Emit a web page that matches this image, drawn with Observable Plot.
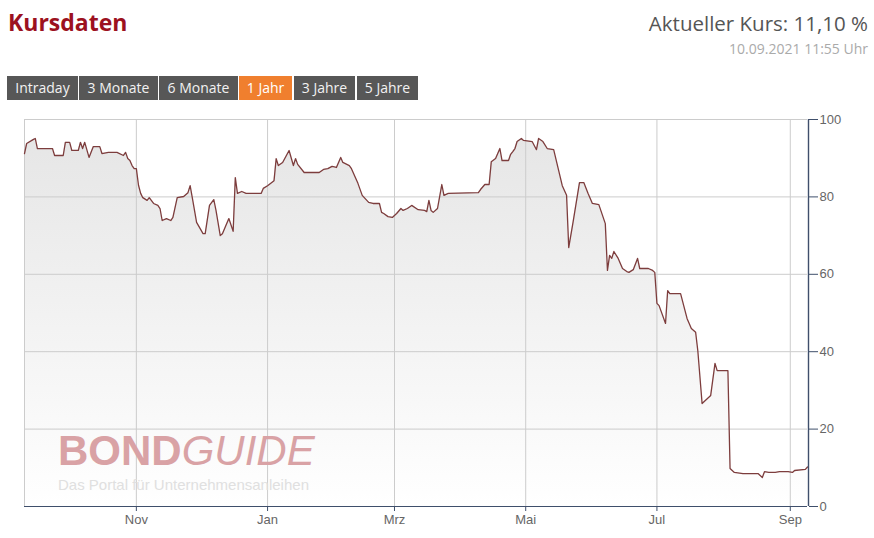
<!DOCTYPE html>
<html>
<head>
<meta charset="utf-8">
<script src="https://cdn.jsdelivr.net/npm/d3@7"></script>
<script src="https://cdn.jsdelivr.net/npm/@observablehq/plot@0.6"></script>
<style>
  html, body { margin: 0; padding: 0; background: #fff; }
  body { width: 874px; height: 538px; position: relative; overflow: hidden; font-family: "Open Sans", sans-serif; }
  .title { position: absolute; left: 8px; top: 10.6px; font-size: 23px; line-height: 23px; font-weight: 700; color: #9c1120; }
  .kurs { position: absolute; right: 6px; top: 12.8px; font-size: 20.5px; line-height: 20.5px; color: #555; }
  .stamp { position: absolute; right: 6px; top: 41.6px; font-size: 14px; line-height: 14px; color: #aaa; }
  .btns { position: absolute; left: 7px; top: 76px; height: 24px; }
  .btn { position: absolute; top: 0; height: 24px; line-height: 24px; background: #575757; color: #f2f2f2; font-size: 14px; text-align: center; }
  .btn.active { background: #f07f2e; color: #fff; }
  #chart { position: absolute; left: 0; top: 110px; }
  .wm1 { position: absolute; left: 58px; top: 430.4px; font-family: "Liberation Sans", Arial, sans-serif; font-size: 42px; line-height: 42px; color: #d9a2a5; white-space: nowrap; }
  .wm1 .b { font-weight: 700; }
  .wm1 .i { font-style: italic; font-weight: 400; }
  .wm2 { position: absolute; left: 58px; top: 476.5px; font-family: "Liberation Sans", Arial, sans-serif; font-size: 15px; line-height: 15px; color: #e0e0e0; white-space: nowrap; }
</style>
</head>
<body>
<div class="title">Kursdaten</div>
<div class="kurs">Aktueller Kurs: 11,10 %</div>
<div class="stamp">10.09.2021 11:55 Uhr</div>
<div class="btns" id="btns"></div>
<div id="chart"></div>
<div class="wm1"><span class="b">BOND</span><span class="i">GUIDE</span></div>
<div class="wm2">Das Portal für Unternehmensanleihen</div>
<script>
// ---- data ----
const rangeButtons = ["Intraday", "3 Monate", "6 Monate", "1 Jahr", "3 Jahre", "5 Jahre"];
const activeButton = "1 Jahr";

const dates = [
  "2020-09-10","2020-09-11","2020-09-14","2020-09-15","2020-09-16","2020-09-23","2020-09-24","2020-09-28","2020-09-29",
  "2020-10-01","2020-10-02","2020-10-05","2020-10-06","2020-10-07","2020-10-08","2020-10-10","2020-10-12","2020-10-15",
  "2020-10-16","2020-10-19","2020-10-23","2020-10-26","2020-10-27","2020-10-28","2020-10-29","2020-10-30","2020-10-31",
  "2020-11-01","2020-11-02","2020-11-03","2020-11-04","2020-11-06","2020-11-07","2020-11-09","2020-11-11","2020-11-12",
  "2020-11-13","2020-11-15","2020-11-17","2020-11-18","2020-11-20","2020-11-23","2020-11-25","2020-11-26","2020-11-27",
  "2020-11-29","2020-12-02","2020-12-03","2020-12-05","2020-12-07","2020-12-08","2020-12-10","2020-12-11","2020-12-14",
  "2020-12-16","2020-12-17","2020-12-18","2020-12-20","2020-12-22","2020-12-29","2020-12-30","2021-01-01","2021-01-04",
  "2021-01-05","2021-01-06","2021-01-08","2021-01-11","2021-01-13","2021-01-14","2021-01-15","2021-01-18","2021-01-22",
  "2021-01-25","2021-01-27","2021-01-29","2021-01-31","2021-02-02","2021-02-04","2021-02-05","2021-02-08","2021-02-09",
  "2021-02-12","2021-02-14","2021-02-17","2021-02-19","2021-02-22","2021-02-23","2021-02-24","2021-02-26","2021-02-28",
  "2021-03-02","2021-03-04","2021-03-05","2021-03-07","2021-03-09","2021-03-12","2021-03-15","2021-03-16","2021-03-17",
  "2021-03-18","2021-03-19","2021-03-21","2021-03-23","2021-03-24","2021-03-26","2021-04-09","2021-04-10","2021-04-12",
  "2021-04-14","2021-04-15","2021-04-17","2021-04-19","2021-04-20","2021-04-23","2021-04-24","2021-04-25","2021-04-26",
  "2021-04-27","2021-04-29","2021-04-30","2021-05-04","2021-05-06","2021-05-07","2021-05-09","2021-05-11","2021-05-14",
  "2021-05-18","2021-05-20","2021-05-21","2021-05-23","2021-05-26","2021-05-28","2021-05-30","2021-06-01","2021-06-04",
  "2021-06-07","2021-06-08","2021-06-09","2021-06-10","2021-06-11","2021-06-13","2021-06-15","2021-06-17","2021-06-18",
  "2021-06-20","2021-06-22","2021-06-23","2021-06-27","2021-06-29","2021-06-30","2021-07-01","2021-07-02","2021-07-05",
  "2021-07-06","2021-07-07","2021-07-12","2021-07-15","2021-07-17","2021-07-19","2021-07-20","2021-07-22","2021-07-26",
  "2021-07-28","2021-07-29","2021-08-03","2021-08-04","2021-08-06","2021-08-10","2021-08-17","2021-08-19","2021-08-20",
  "2021-08-22","2021-08-25","2021-08-27","2021-08-31","2021-09-02","2021-09-03","2021-09-08","2021-09-09"
];
const kurs = [
  91.2,93.8,94.8,95.1,92.5,92.5,90.7,90.7,94.1,
  94.1,92.0,92.0,94.1,92.5,94.1,90.2,93.0,93.0,
  91.2,91.5,91.5,90.7,91.5,89.9,89.4,88.1,87.3,
  87.3,83.0,80.9,79.8,79.1,79.8,78.3,77.8,77.0,
  73.9,74.4,73.9,74.7,79.8,80.1,81.1,82.9,79.8,
  73.4,70.5,70.5,77.8,79.3,76.6,70.0,70.5,74.4,
  71.1,85.0,80.9,81.4,80.9,80.9,82.2,82.9,84.2,
  89.9,88.1,88.9,92.0,88.1,89.9,88.4,86.3,86.3,
  86.3,87.1,87.3,87.9,87.6,90.2,88.9,88.1,87.3,
  83.5,80.4,78.6,78.3,78.3,76.0,75.7,74.9,74.7,
  75.7,77.0,76.5,77.0,77.8,76.7,76.5,76.2,79.1,
  76.5,76.0,77.0,83.2,80.4,80.9,81.1,81.9,83.2,
  83.2,89.1,89.9,92.5,89.4,89.4,91.0,91.7,92.5,
  94.3,95.1,94.6,94.3,92.2,95.1,94.3,92.5,92.2,
  82.9,80.4,66.9,73.4,83.7,83.7,80.9,78.3,78.0,
  73.1,61.0,64.9,64.1,65.9,64.1,61.5,60.7,60.5,
  61.2,64.1,61.5,61.5,61.0,60.5,52.5,51.9,47.3,
  55.8,55.0,55.0,48.6,46.0,45.0,40.3,26.6,28.7,
  37.0,35.1,35.1,9.8,8.8,8.5,8.5,7.5,9.0,
  8.8,8.8,9.0,9.0,8.8,9.3,9.6,10.2
];
const xDomain = ["2020-09-10", "2021-09-09"];
const monthTicks = ["2020-11-01","2021-01-01","2021-03-01","2021-05-01","2021-07-01","2021-09-01"];
const monthLabels = ["Nov","Jan","Mrz","Mai","Jul","Sep"];
const yTicks = [0, 20, 40, 60, 80, 100];

// ---- buttons ----
const btnLeft = [0, 72, 152, 232, 287, 350];
const btnWidth = [71, 79, 79, 53, 61, 61];
const btns = document.getElementById("btns");
rangeButtons.forEach((t, i) => {
  const b = document.createElement("div");
  b.className = "btn" + (t === activeButton ? " active" : "");
  b.style.left = btnLeft[i] + "px";
  b.style.width = btnWidth[i] + "px";
  b.textContent = t;
  btns.appendChild(b);
});

// ---- chart ----
const data = dates.map((d, i) => ({date: new Date(d), value: kurs[i]}));
const tickDates = monthTicks.map(d => new Date(d));
const labelOf = new Map(tickDates.map((d, i) => [+d, monthLabels[i]]));
const dom = xDomain.map(d => new Date(d));
const gridColor = "#cccccc";
const axisColor = "#3f4f6b";

const chart = Plot.plot({
  width: 874,
  height: 428,
  marginTop: 9,
  marginBottom: 32,
  marginLeft: 24,
  marginRight: 67,
  style: {fontFamily: "'Liberation Sans', Arial, sans-serif", fontSize: "13px", color: "#666", background: "transparent", overflow: "visible"},
  x: {type: "utc", domain: dom},
  y: {domain: [0, 100]},
  marks: [
    Plot.areaY(data, {x: "date", y: "value", fill: "url(#kursGrad)"}),
    Plot.gridY(yTicks, {stroke: gridColor, strokeOpacity: 1}),
    Plot.gridX(tickDates, {stroke: gridColor, strokeOpacity: 1}),
    Plot.ruleX([dom[0]], {stroke: gridColor}),
    Plot.lineY(data, {x: "date", y: "value", stroke: "#7d3d3d", strokeWidth: 1.3}),
    Plot.ruleY([0], {stroke: axisColor, strokeWidth: 1.2}),
    Plot.ruleX([dom[1]], {stroke: axisColor, strokeWidth: 1.4, dx: 1}),
    Plot.axisX(tickDates, {anchor: "bottom", tickSize: 5, tickPadding: 3, stroke: axisColor, fill: "#666", tickFormat: d => labelOf.get(+d), label: null}),
    Plot.axisY(yTicks, {anchor: "right", tickSize: 9, tickPadding: 2, dx: 1, stroke: axisColor, fill: "#666", label: null})
  ]
});

const defs = document.createElementNS("http://www.w3.org/2000/svg", "defs");
defs.innerHTML = '<linearGradient id="kursGrad" x1="0" y1="0" x2="0" y2="1">' +
  '<stop offset="0" stop-color="#e6e6e6"/><stop offset="1" stop-color="#ffffff"/></linearGradient>';
chart.insertBefore(defs, chart.firstChild);
document.getElementById("chart").appendChild(chart);
</script>
</body>
</html>
